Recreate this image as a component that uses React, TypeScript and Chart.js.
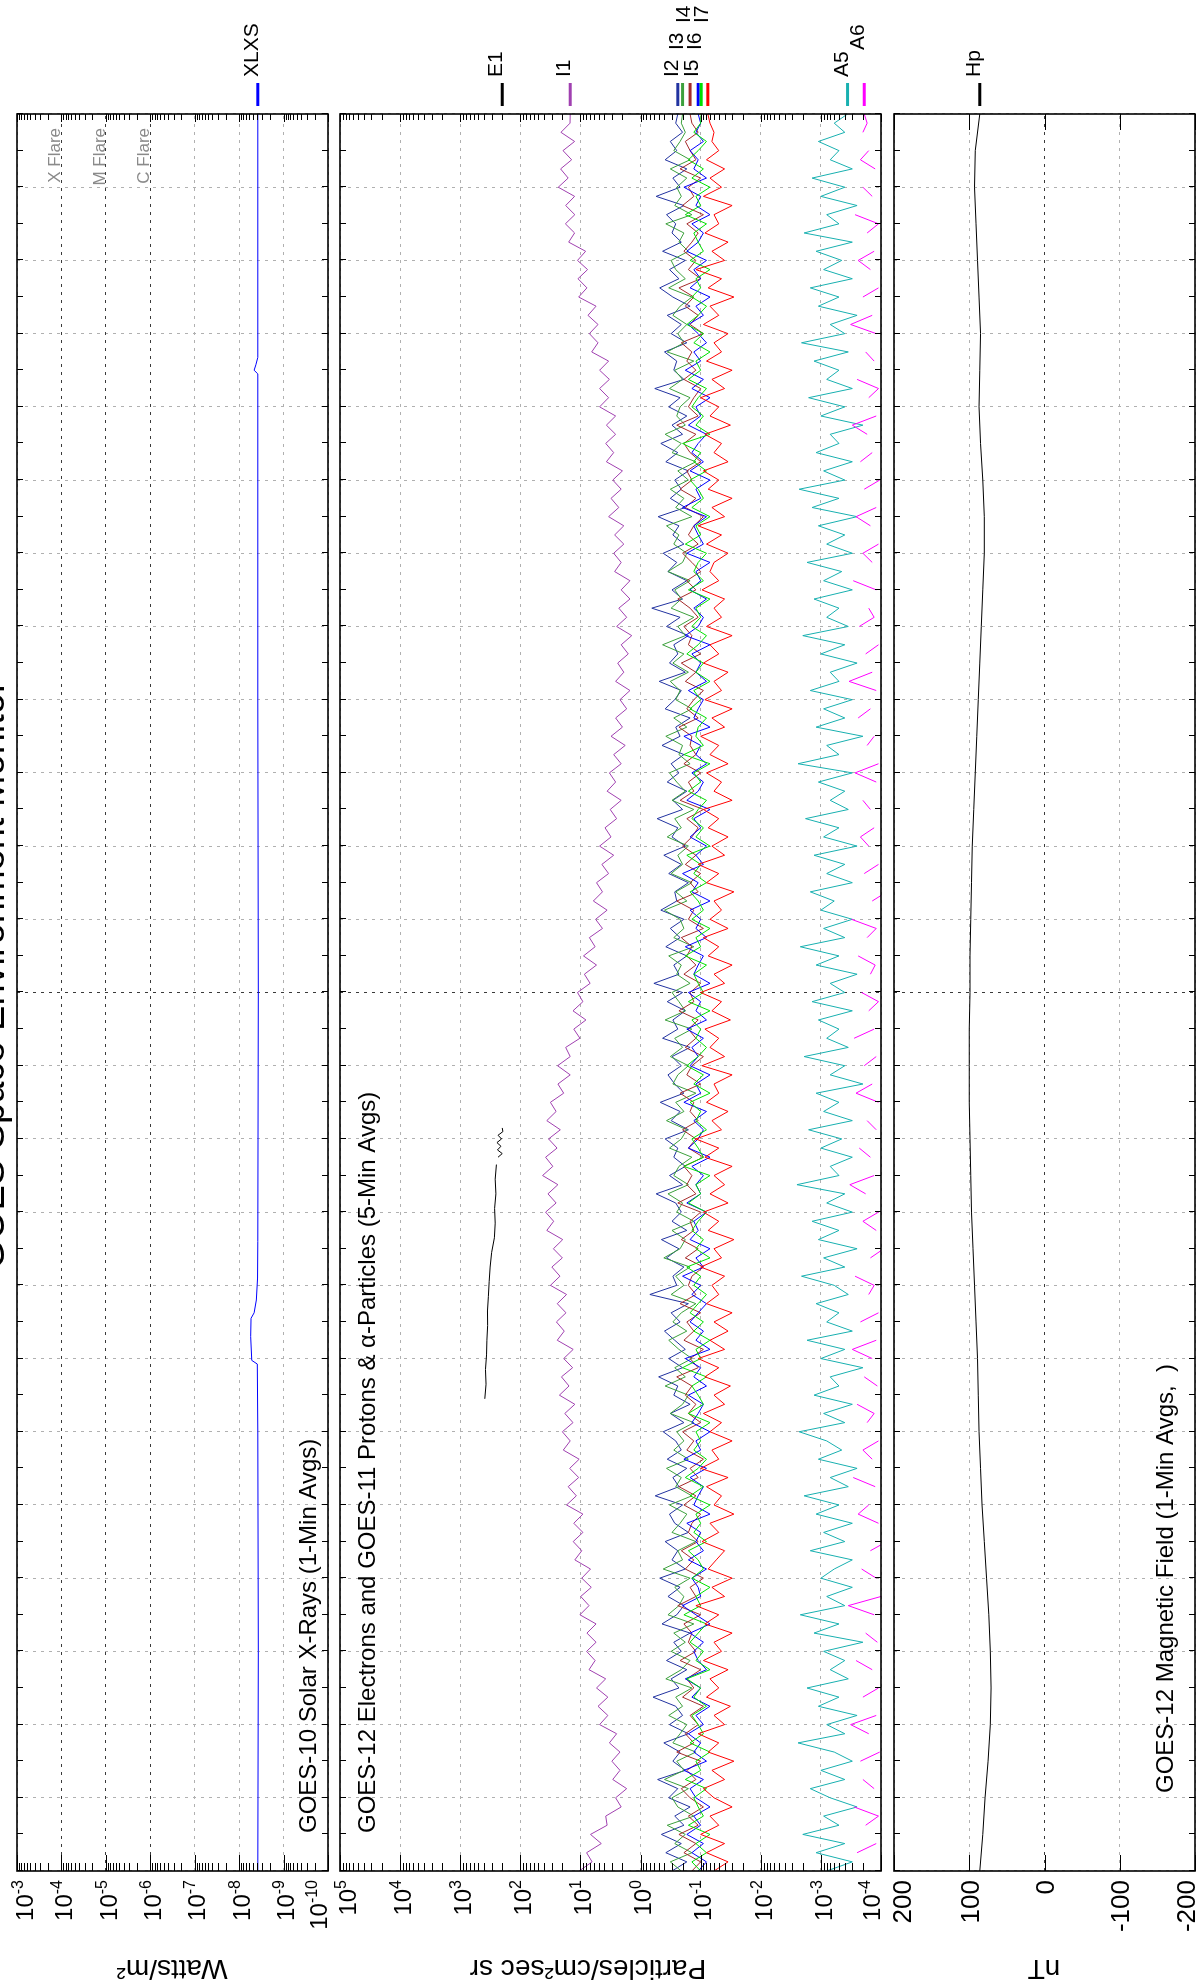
import React, { useEffect, useRef } from "react";
import { Chart, registerables } from "chart.js";

Chart.register(...registerables);

// ---------------- data ----------------
const T15: number[] = Array.from({ length: 193 }, (_, i) => i / 4); // hours, 15-min steps
const HOURS: number[] = Array.from({ length: 49 }, (_, i) => i);
const X_GRID: number[] = Array.from({ length: 25 }, (_, i) => i * 2);
const MIDNIGHT = 24;

const XLXS_T = [0, 6, 12, 13.85, 13.95, 14.6, 15.1, 15.25, 15.6, 16.2, 17.2, 24, 32, 40.9, 41.0, 41.15, 41.35, 48];
const XLXS_V = [3.8e-9, 3.7e-9, 3.8e-9, 3.9e-9, 5.2e-9, 5.5e-9, 5.4e-9, 4.6e-9, 4.1e-9, 3.85e-9, 3.8e-9, 3.7e-9, 3.8e-9, 3.8e-9, 4.6e-9, 4.2e-9, 3.8e-9, 3.8e-9];

const E1_T = [12.9, 13.3, 13.7, 14.1, 14.5, 14.9, 15.3, 15.7, 16.1, 16.5, 16.9, 17.3, 17.7, 18.1, 18.5, 18.9, 19.3, 19.4, 19.5, 19.6, 19.7, 19.8, 19.9, 20.0, 20.1, 20.2, 20.3];
const E1_V = [390, 372, 380, 365, 360, 350, 352, 340, 330, 318, 300, 270, 262, 268, 255, 262, 250, null, 235, 200, 240, 210, 245, 205, 235, 195, 200];

const I1 = [
  10.5, 6.4, 7.9, 4.5, 6.8, 3.6, 3.8, 2.1, 2.6, 1.7, 2.9, 2.2, 3.0, 2.2, 3.3, 2.5,
  4.8, 3.5, 5.1, 3.5, 5.4, 3.8, 7.2, 5.7, 7.9, 5.5, 7.8, 5.5, 10.2, 7.2, 9.9, 6.6,
  9.5, 6.8, 12.4, 9.5, 13.2, 9.1, 12.9, 9.1, 17, 11.7, 16, 10.7, 15.1, 10.5, 19.3, 14.8,
  20, 13.3, 18.2, 12.4, 22.4, 15.5, 20.7, 13.5, 19, 13.2, 24.3, 18.6, 25.1, 17.4, 24.3, 17,
  31.6, 21.9, 29.9, 20, 28.2, 19.7, 36.3, 27.9, 38, 25.4, 34.7, 23.7, 42.7, 28.8, 38, 24.5,
  33.9, 21.6, 36.3, 25.4, 31.6, 19, 23.7, 14.8, 24, 14.8, 17.6, 10.2, 12.9, 8.1, 13.3, 9.1,
  11.2, 6.9, 8.6, 5.4, 8.9, 5.7, 7.1, 4.3, 5.6, 3.6, 6.1, 4.3, 5.4, 3.4, 4.4, 2.8,
  4.8, 3.1, 3.9, 2.5, 3.2, 2.1, 3.6, 2.6, 3.3, 2.1, 2.8, 1.8, 3.1, 2.0, 2.6, 1.7,
  2.2, 1.5, 2.6, 1.9, 2.4, 1.6, 2.1, 1.4, 2.5, 1.7, 2.3, 1.5, 2.1, 1.5, 2.7, 2.1,
  2.8, 1.9, 2.7, 1.9, 3.4, 2.3, 3.1, 2.1, 2.9, 2.0, 3.7, 2.8, 3.8, 2.6, 3.7, 2.6,
  4.8, 3.4, 4.8, 3.3, 4.8, 3.4, 6.5, 5.1, 7.1, 5.1, 7.5, 5.5, 10.7, 7.8, 11, 7.6,
  11.2, 8.2, 15.7, 12.5, 17.8, 12.4, 17.6, 12.5, 23.4, 16, 21.4, 14, 19.5, 12.5, 21.1, 14.9,
  14.8];

const I2 = [
  0.30, 0.17, 0.38, 0.21, 0.45, 0.19, 0.27, 0.15, 0.34, 0.24, 0.52, 0.18, 0.29, 0.22, 0.41, 0.16,
  0.33, 0.20, 0.26, 0.62, 0.23, 0.31, 0.17, 0.37, 0.21, 0.28, 0.15, 0.44, 0.25, 0.19, 0.35, 0.22,
  0.48, 0.18, 0.30, 0.24, 0.39, 0.16, 0.27, 0.33, 0.20, 0.57, 0.23, 0.29, 0.17, 0.36, 0.21, 0.26,
  0.42, 0.19, 0.32, 0.15, 0.28, 0.24, 0.50, 0.20, 0.34, 0.18, 0.27, 0.40, 0.22, 0.31, 0.16, 0.70,
  0.25, 0.29, 0.19, 0.37, 0.23, 0.45, 0.17, 0.30, 0.21, 0.26, 0.55, 0.20, 0.33, 0.18, 0.28, 0.24,
  0.39, 0.16, 0.31, 0.22, 0.47, 0.19, 0.27, 0.35, 0.21, 0.30, 0.15, 0.43, 0.24, 0.29, 0.18, 0.36,
  0.20, 0.60, 0.23, 0.28, 0.17, 0.38, 0.22, 0.32, 0.19, 0.46, 0.25, 0.27, 0.16, 0.34, 0.21, 0.41,
  0.18, 0.30, 0.24, 0.53, 0.20, 0.29, 0.17, 0.36, 0.23, 0.31, 0.19, 0.44, 0.22, 0.26, 0.15, 0.39,
  0.27, 0.21, 0.49, 0.18, 0.33, 0.24, 0.28, 0.16, 0.37, 0.22, 0.65, 0.20, 0.30, 0.17, 0.35, 0.25,
  0.42, 0.19, 0.29, 0.23, 0.51, 0.18, 0.32, 0.21, 0.27, 0.16, 0.38, 0.24, 0.46, 0.20, 0.30, 0.17,
  0.34, 0.22, 0.58, 0.19, 0.28, 0.25, 0.40, 0.17, 0.31, 0.21, 0.36, 0.15, 0.29, 0.48, 0.23, 0.33,
  0.18, 0.43, 0.21, 0.30, 0.26, 0.37, 0.19, 0.55, 0.22, 0.29, 0.17, 0.39, 0.25, 0.32, 0.20, 0.26,
  0.24];

const I3 = [
  0.21, 0.32, 0.14, 0.27, 0.18, 0.36, 0.13, 0.24, 0.30, 0.16, 0.40, 0.19, 0.25, 0.12, 0.29, 0.22,
  0.17, 0.34, 0.20, 0.26, 0.14, 0.38, 0.21, 0.15, 0.31, 0.18, 0.28, 0.13, 0.35, 0.23, 0.19, 0.27,
  0.15, 0.42, 0.20, 0.24, 0.12, 0.30, 0.22, 0.17, 0.33, 0.14, 0.26, 0.21, 0.37, 0.16, 0.28, 0.19,
  0.25, 0.13, 0.32, 0.20, 0.16, 0.39, 0.18, 0.27, 0.14, 0.23, 0.34, 0.17, 0.29, 0.21, 0.12, 0.31,
  0.19, 0.26, 0.15, 0.41, 0.22, 0.18, 0.30, 0.13, 0.25, 0.20, 0.35, 0.16, 0.28, 0.23, 0.14, 0.33,
  0.21, 0.17, 0.37, 0.19, 0.26, 0.12, 0.29, 0.24, 0.16, 0.32, 0.20, 0.27, 0.14, 0.39, 0.18, 0.23,
  0.30, 0.15, 0.25, 0.21, 0.34, 0.13, 0.28, 0.19, 0.22, 0.40, 0.17, 0.26, 0.14, 0.31, 0.20, 0.24,
  0.16, 0.36, 0.21, 0.27, 0.13, 0.30, 0.18, 0.25, 0.33, 0.15, 0.23, 0.20, 0.38, 0.17, 0.28, 0.14,
  0.26, 0.22, 0.32, 0.16, 0.29, 0.19, 0.43, 0.18, 0.24, 0.13, 0.31, 0.21, 0.27, 0.15, 0.35, 0.20,
  0.17, 0.28, 0.23, 0.37, 0.14, 0.26, 0.19, 0.32, 0.16, 0.24, 0.12, 0.30, 0.21, 0.39, 0.18, 0.25,
  0.22, 0.15, 0.33, 0.20, 0.27, 0.13, 0.36, 0.19, 0.24, 0.17, 0.29, 0.22, 0.14, 0.34, 0.18, 0.26,
  0.31, 0.16, 0.23, 0.19, 0.38, 0.14, 0.27, 0.21, 0.25, 0.17, 0.32, 0.15, 0.28, 0.22, 0.18, 0.21,
  0.20];

const I4 = [
  0.14, 0.10, 0.19, 0.12, 0.23, 0.11, 0.16, 0.09, 0.15, 0.21, 0.12, 0.17, 0.10, 0.25, 0.13, 0.18,
  0.11, 0.15, 0.09, 0.20, 0.13, 0.17, 0.10, 0.22, 0.12, 0.16, 0.14, 0.19, 0.10, 0.24, 0.12, 0.15,
  0.09, 0.18, 0.13, 0.21, 0.11, 0.16, 0.14, 0.10, 0.19, 0.12, 0.23, 0.11, 0.15, 0.09, 0.17, 0.13,
  0.20, 0.10, 0.16, 0.12, 0.18, 0.14, 0.25, 0.11, 0.15, 0.09, 0.19, 0.13, 0.17, 0.10, 0.22, 0.12,
  0.16, 0.14, 0.09, 0.18, 0.11, 0.21, 0.13, 0.15, 0.10, 0.24, 0.12, 0.17, 0.14, 0.19, 0.09, 0.16,
  0.12, 0.20, 0.11, 0.15, 0.13, 0.22, 0.10, 0.17, 0.14, 0.09, 0.18, 0.12, 0.16, 0.11, 0.23, 0.13,
  0.15, 0.10, 0.19, 0.12, 0.17, 0.14, 0.21, 0.09, 0.16, 0.13, 0.25, 0.11, 0.15, 0.10, 0.18, 0.12,
  0.20, 0.14, 0.11, 0.17, 0.09, 0.22, 0.13, 0.16, 0.10, 0.19, 0.12, 0.15, 0.14, 0.23, 0.11, 0.17,
  0.13, 0.09, 0.18, 0.12, 0.21, 0.10, 0.16, 0.14, 0.19, 0.11, 0.15, 0.24, 0.12, 0.17, 0.10, 0.14,
  0.20, 0.11, 0.16, 0.13, 0.09, 0.18, 0.12, 0.22, 0.14, 0.17, 0.10, 0.15, 0.19, 0.12, 0.25, 0.11,
  0.16, 0.13, 0.10, 0.19, 0.12, 0.17, 0.14, 0.21, 0.09, 0.15, 0.11, 0.18, 0.13, 0.23, 0.10, 0.16,
  0.12, 0.19, 0.14, 0.11, 0.17, 0.09, 0.20, 0.13, 0.16, 0.10, 0.22, 0.12, 0.15, 0.18, 0.11, 0.14,
  0.15];

const I5 = [
  0.11, 0.08, 0.14, 0.09, 0.17, 0.10, 0.13, 0.07, 0.12, 0.15, 0.09, 0.19, 0.08, 0.13, 0.10, 0.16,
  0.09, 0.12, 0.07, 0.14, 0.10, 0.18, 0.08, 0.11, 0.13, 0.09, 0.15, 0.07, 0.12, 0.20, 0.10, 0.11,
  0.14, 0.08, 0.16, 0.09, 0.12, 0.10, 0.17, 0.07, 0.13, 0.11, 0.09, 0.15, 0.08, 0.19, 0.10, 0.12,
  0.07, 0.14, 0.11, 0.09, 0.16, 0.08, 0.13, 0.10, 0.18, 0.07, 0.12, 0.09, 0.15, 0.11, 0.08, 0.14,
  0.10, 0.20, 0.09, 0.12, 0.07, 0.15, 0.11, 0.13, 0.08, 0.17, 0.10, 0.12, 0.09, 0.14, 0.07, 0.16,
  0.11, 0.09, 0.13, 0.08, 0.19, 0.10, 0.12, 0.07, 0.15, 0.11, 0.14, 0.09, 0.17, 0.08, 0.12, 0.10,
  0.16, 0.07, 0.13, 0.11, 0.09, 0.18, 0.08, 0.12, 0.10, 0.15, 0.07, 0.14, 0.11, 0.20, 0.09, 0.12,
  0.08, 0.15, 0.10, 0.13, 0.07, 0.17, 0.11, 0.09, 0.14, 0.08, 0.12, 0.10, 0.19, 0.07, 0.13, 0.11,
  0.09, 0.16, 0.08, 0.12, 0.10, 0.14, 0.07, 0.18, 0.11, 0.09, 0.13, 0.08, 0.15, 0.10, 0.12, 0.07,
  0.17, 0.09, 0.11, 0.13, 0.08, 0.20, 0.10, 0.12, 0.07, 0.15, 0.09, 0.14, 0.11, 0.08, 0.16, 0.10,
  0.12, 0.07, 0.14, 0.09, 0.18, 0.10, 0.13, 0.08, 0.11, 0.16, 0.09, 0.12, 0.07, 0.15, 0.10, 0.13,
  0.08, 0.17, 0.11, 0.09, 0.14, 0.07, 0.12, 0.10, 0.19, 0.08, 0.13, 0.11, 0.15, 0.09, 0.12, 0.10,
  0.11];

const I6 = [
  0.10, 0.14, 0.08, 0.12, 0.07, 0.16, 0.09, 0.11, 0.13, 0.08, 0.18, 0.10, 0.12, 0.07, 0.15, 0.09,
  0.11, 0.14, 0.08, 0.13, 0.10, 0.17, 0.07, 0.12, 0.09, 0.15, 0.11, 0.08, 0.19, 0.10, 0.12, 0.07,
  0.14, 0.09, 0.11, 0.16, 0.08, 0.13, 0.10, 0.12, 0.07, 0.15, 0.09, 0.18, 0.11, 0.08, 0.13, 0.10,
  0.12, 0.07, 0.16, 0.09, 0.11, 0.14, 0.08, 0.20, 0.10, 0.12, 0.07, 0.13, 0.09, 0.15, 0.11, 0.08,
  0.13, 0.10, 0.17, 0.07, 0.12, 0.09, 0.14, 0.11, 0.08, 0.16, 0.10, 0.12, 0.07, 0.19, 0.09, 0.11,
  0.14, 0.08, 0.12, 0.10, 0.15, 0.07, 0.13, 0.09, 0.17, 0.11, 0.08, 0.12, 0.10, 0.14, 0.07, 0.16,
  0.09, 0.11, 0.13, 0.08, 0.18, 0.10, 0.12, 0.07, 0.14, 0.09, 0.11, 0.15, 0.08, 0.13, 0.10, 0.17,
  0.07, 0.12, 0.09, 0.14, 0.11, 0.08, 0.16, 0.10, 0.13, 0.07, 0.19, 0.09, 0.12, 0.11, 0.08, 0.15,
  0.10, 0.13, 0.07, 0.12, 0.09, 0.17, 0.11, 0.08, 0.14, 0.10, 0.12, 0.07, 0.16, 0.09, 0.13, 0.11,
  0.08, 0.18, 0.10, 0.12, 0.07, 0.14, 0.09, 0.11, 0.15, 0.08, 0.13, 0.10, 0.20, 0.07, 0.12, 0.09,
  0.14, 0.11, 0.08, 0.16, 0.10, 0.12, 0.07, 0.13, 0.09, 0.17, 0.11, 0.08, 0.14, 0.10, 0.12, 0.07,
  0.15, 0.09, 0.11, 0.13, 0.08, 0.18, 0.10, 0.12, 0.07, 0.14, 0.09, 0.16, 0.11, 0.08, 0.13, 0.10,
  0.098];

const I7 = [
  0.06, 0.035, 0.08, 0.04, 0.10, 0.05, 0.07, 0.03, 0.06, 0.09, 0.04, 0.065, 0.028, 0.075, 0.05, 0.11,
  0.04, 0.06, 0.032, 0.08, 0.05, 0.07, 0.035, 0.09, 0.045, 0.06, 0.03, 0.085, 0.05, 0.12, 0.04, 0.065,
  0.03, 0.075, 0.055, 0.04, 0.095, 0.05, 0.07, 0.028, 0.06, 0.045, 0.08, 0.035, 0.10, 0.05, 0.065, 0.03,
  0.07, 0.045, 0.09, 0.04, 0.06, 0.032, 0.085, 0.05, 0.11, 0.04, 0.07, 0.035, 0.06, 0.03, 0.08, 0.05,
  0.065, 0.04, 0.10, 0.045, 0.06, 0.028, 0.075, 0.05, 0.09, 0.035, 0.07, 0.04, 0.06, 0.03, 0.085, 0.05,
  0.12, 0.045, 0.065, 0.035, 0.08, 0.05, 0.06, 0.03, 0.095, 0.04, 0.07, 0.05, 0.085, 0.032, 0.065, 0.045,
  0.10, 0.04, 0.06, 0.03, 0.075, 0.05, 0.09, 0.035, 0.07, 0.045, 0.06, 0.028, 0.08, 0.05, 0.11, 0.04,
  0.065, 0.035, 0.075, 0.05, 0.09, 0.03, 0.06, 0.045, 0.08, 0.035, 0.07, 0.05, 0.10, 0.04, 0.065, 0.03,
  0.085, 0.045, 0.06, 0.035, 0.09, 0.05, 0.07, 0.03, 0.08, 0.045, 0.06, 0.04, 0.095, 0.05, 0.07, 0.06,
  0.035, 0.08, 0.045, 0.11, 0.04, 0.065, 0.03, 0.075, 0.05, 0.09, 0.035, 0.06, 0.045, 0.085, 0.032, 0.07,
  0.05, 0.10, 0.04, 0.065, 0.03, 0.08, 0.045, 0.06, 0.035, 0.09, 0.05, 0.07, 0.028, 0.075, 0.045, 0.12,
  0.04, 0.065, 0.035, 0.085, 0.05, 0.06, 0.03, 0.09, 0.045, 0.07, 0.04, 0.08, 0.05, 0.065, 0.06, 0.07,
  0.076];

const A5 = [
  8e-4, 3e-4, 1.2e-3, 4e-4, 2e-3, 5e-4, 9e-4, 2.5e-4, 7e-4, 1.5e-3, 4e-4, 1e-3, 3e-4, 6e-4, 2.4e-3, 4e-4,
  8e-4, 2.5e-4, 1.1e-3, 5e-4, 1.7e-3, 3.5e-4, 7e-4, 4e-4, 9e-4, 2e-4, 1.3e-3, 5e-4, 2.2e-3, 4e-4, 8e-4, 3e-4,
  1e-3, 6e-4, 3e-4, 1.5e-3, 4e-4, 9e-4, 3e-4, 1.2e-3, 5e-4, 1.9e-3, 3.5e-4, 7e-4, 2.5e-4, 1.1e-3, 4.5e-4, 8e-4,
  2.3e-3, 4e-4, 9e-4, 3e-4, 1.3e-3, 5e-4, 7e-4, 2e-4, 1e-3, 4e-4, 1.7e-3, 3e-4, 8e-4, 5e-4, 1.2e-3, 3.5e-4,
  6e-4, 2.1e-3, 4e-4, 9e-4, 2.5e-4, 1.1e-3, 5e-4, 1.4e-3, 3e-4, 8e-4, 4e-4, 2.5e-3, 5e-4, 7e-4, 3e-4, 1e-3,
  4.5e-4, 1.6e-3, 3e-4, 9e-4, 5e-4, 1.2e-3, 2e-4, 7e-4, 4e-4, 1.9e-3, 3.5e-4, 8e-4, 5e-4, 1.1e-3, 3e-4, 1.4e-3,
  4e-4, 7e-4, 2.5e-4, 1.2e-3, 5e-4, 2.2e-3, 4e-4, 9e-4, 3e-4, 1e-3, 6e-4, 1.5e-3, 3e-4, 8e-4, 4e-4, 1.3e-3,
  2.5e-4, 9e-4, 5e-4, 1.8e-3, 3.5e-4, 7e-4, 4e-4, 1.1e-3, 3e-4, 2.4e-3, 5e-4, 8e-4, 2e-4, 1.2e-3, 4e-4, 9e-4,
  3e-4, 1.5e-3, 5e-4, 7e-4, 2.5e-4, 1e-3, 4e-4, 2e-3, 3.5e-4, 8e-4, 5e-4, 1.3e-3, 3e-4, 9e-4, 4.5e-4, 1.7e-3,
  3e-4, 8e-4, 4e-4, 1.1e-3, 2.5e-4, 1.4e-3, 5e-4, 2.3e-3, 4e-4, 9e-4, 3e-4, 1.2e-3, 5e-4, 7e-4, 2e-4, 1e-3,
  4e-4, 1.6e-3, 3e-4, 8e-4, 5e-4, 1.3e-3, 3.5e-4, 2.1e-3, 4e-4, 7e-4, 2.5e-4, 1.1e-3, 5e-4, 1.5e-3, 3e-4, 9e-4,
  4.5e-4, 1.2e-3, 3e-4, 1.9e-3, 5e-4, 8e-4, 2.5e-4, 1e-3, 4e-4, 1.4e-3, 3e-4, 7e-4, 5e-4, 1.1e-3, 4e-4, 6e-4,
  3.6e-4];

const A6 = [
  1.5e-4, null, 2.5e-4, 1.2e-4, null, 1.8e-4, 1.1e-4, 2.8e-4, null, 1.3e-4, 2.0e-4, null, 2.2e-4, 1.05e-4, null, 1.6e-4,
  3.2e-4, 1.2e-4, null, 2.0e-4, 1.1e-4, null, 1.4e-4, 2.6e-4, null, 1.15e-4, 1.8e-4, null, 1.3e-4, 3.5e-4, 1.0e-4, null,
  1.2e-4, 2.1e-4, null, 1.5e-4, 8e-5, null, 1.1e-4, 2.4e-4, 1.6e-4, null, 1.25e-4, 2.9e-4, null, 1.4e-4, 2.0e-4, 1.1e-4,
  null, 1.7e-4, 1.3e-4, 2.5e-4, null, 1.15e-4, 1.9e-4, null, 1.4e-4, 3.0e-4, 1.2e-4, null, 2.2e-4, 1.1e-4, null, 1.6e-4,
  1.3e-4, 2.7e-4, null, 1.5e-4, 9e-5, null, 1.2e-4, 2.0e-4, 1.1e-4, null, 1.8e-4, 3.3e-4, 1.3e-4, null, 1.5e-4, 2.3e-4,
  null, 1.2e-4, 1.7e-4, null, 1.1e-4, 2.6e-4, 1.4e-4, null, 1.9e-4, 1.2e-4, null, 2.8e-4, 1.3e-4, null, 1.6e-4, 1.1e-4,
  2.1e-4, null, 1.5e-4, 1.25e-4, 2.4e-4, null, 1.7e-4, 1.2e-4, 3.1e-4, null, 1.4e-4, 8e-5, null, 1.9e-4, 1.1e-4, null,
  1.6e-4, 2.2e-4, 1.3e-4, null, 1.5e-4, 2.0e-4, null, 1.2e-4, 2.7e-4, 1.1e-4, null, 1.7e-4, 1.3e-4, null, 2.4e-4, 1.5e-4,
  null, 1.2e-4, 3.4e-4, 1.4e-4, null, 1.8e-4, 1.1e-4, null, 2.3e-4, 1.3e-4, 1.6e-4, null, 1.2e-4, 2.9e-4, null, 1.4e-4,
  2.0e-4, 1.1e-4, null, 1.5e-4, 2.6e-4, 1.2e-4, null, 1.9e-4, 1.05e-4, null, 2.2e-4, 1.4e-4, null, 1.7e-4, 3.0e-4, 1.2e-4,
  null, 1.6e-4, 1.1e-4, 2.5e-4, null, 1.3e-4, 1.8e-4, null, 1.2e-4, 3.2e-4, 1.4e-4, null, 2.0e-4, 1.1e-4, null, 1.5e-4,
  2.4e-4, 1.3e-4, null, 1.7e-4, 1.1e-4, 2.7e-4, null, 1.4e-4, 2.0e-4, null, 1.25e-4, 2.2e-4, 1.6e-4, null, 2.0e-4, 1.7e-4,
  1.9e-4];

const HP = [86, 82, 79, 75, 72, 71, 72, 74, 77, 80, 83, 85, 87, 88, 89, 91, 93, 95, 97, 98, 99, 100, 100, 100, 99,
  99, 98, 97, 96, 94, 92, 90, 88, 86, 84, 82, 80, 80, 82, 85, 87, 86, 85, 87, 89, 91, 93, 92, 86];

const XRAY_DECADES = [1e-10, 1e-9, 1e-8, 1e-7, 1e-6, 1e-5, 1e-4, 1e-3];
const FLARE_LEVELS = [1e-4, 1e-5, 1e-6];
const FLARE_NAMES = ["X Flare", "M Flare", "C Flare"];
const PART_DECADES = [1e-4, 1e-3, 1e-2, 1e-1, 1, 10, 100, 1e3, 1e4, 1e5];
const NT_TICKS = [-200, -100, 0, 100, 200];

// ---------------- layout / style ----------------
const W = 1986;
const H = 1204;
const PLOT_LEFT = 115;
const PLOT_RIGHT = 1872;
const FONT = '"Liberation Sans", Arial, Helvetica, sans-serif';
const LEVEL_X = [1909, 1936, 1963];

type Series = { label: string; color: string; t: number[]; v: (number | null)[] };
type Panel = {
  key: string;
  top: number;
  bottom: number;
  yType: "logarithmic" | "linear";
  yMin: number;
  yMax: number;
  yGrid: number[];
  darkY: number[];
  title: string;
  titleX: number;
  titleY: number;
  axisTitle: string;
  axisTitleY: number;
  series: Series[];
  mainTitle?: boolean;
  flares?: boolean;
};

const PANELS: Panel[] = [
  {
    key: "xray",
    top: 17,
    bottom: 328,
    yType: "logarithmic",
    yMin: 1e-10,
    yMax: 1e-3,
    yGrid: XRAY_DECADES,
    darkY: FLARE_LEVELS,
    title: "GOES-10 Solar X-Rays (1-Min Avgs)",
    titleX: 153,
    titleY: 316,
    axisTitle: "Watts/m\u00b2",
    axisTitleY: 172,
    series: [{ label: "XLXS", color: "#0000ff", t: XLXS_T, v: XLXS_V }],
    mainTitle: true,
    flares: true,
  },
  {
    key: "part",
    top: 340,
    bottom: 881,
    yType: "logarithmic",
    yMin: 1e-4,
    yMax: 1e5,
    yGrid: PART_DECADES,
    darkY: [],
    title: "GOES-12 Electrons and GOES-11 Protons & \u03b1-Particles (5-Min Avgs)",
    titleX: 153,
    titleY: 375,
    axisTitle: "Particles/cm\u00b2sec sr",
    axisTitleY: 588,
    series: [
      { label: "E1", color: "#000000", t: E1_T, v: E1_V },
      { label: "I1", color: "#a040b0", t: T15, v: I1 },
      { label: "I2", color: "#2233a0", t: T15, v: I2 },
      { label: "I3", color: "#3ca03c", t: T15, v: I3 },
      { label: "I4", color: "#a52a2a", t: T15, v: I4 },
      { label: "I5", color: "#0000ff", t: T15, v: I5 },
      { label: "I6", color: "#00e000", t: T15, v: I6 },
      { label: "I7", color: "#ff0000", t: T15, v: I7 },
      { label: "A5", color: "#18b0b0", t: T15, v: A5 },
      { label: "A6", color: "#ff00ff", t: T15, v: A6 },
    ],
  },
  {
    key: "mag",
    top: 894,
    bottom: 1195,
    yType: "linear",
    yMin: -200,
    yMax: 200,
    yGrid: NT_TICKS,
    darkY: [0],
    title: "GOES-12 Magnetic Field (1-Min Avgs,  )",
    titleX: 193,
    titleY: 1173,
    axisTitle: "nT",
    axisTitleY: 1044,
    series: [{ label: "Hp", color: "#000000", t: HOURS, v: HP }],
  },
];

function seg(ctx: CanvasRenderingContext2D, x1: number, y1: number, x2: number, y2: number) {
  ctx.beginPath();
  ctx.moveTo(x1, y1);
  ctx.lineTo(x2, y2);
  ctx.stroke();
}

function decorPlugin(p: Panel) {
  return {
    id: "decor_" + p.key,
    afterDraw(chart: any) {
      const ctx = chart.ctx as CanvasRenderingContext2D;
      const { left: L, right: R, top: T, bottom: B } = chart.chartArea;
      const xs = chart.scales.x;
      const ys = chart.scales.y;
      ctx.save();
      ctx.strokeStyle = "#000";
      ctx.lineWidth = 1;
      // hour ticks (inward)
      for (const h of HOURS) {
        const x = Math.round(xs.getPixelForValue(h)) + 0.5;
        seg(ctx, x, T, x, T + 6);
        seg(ctx, x, B, x, B - 6);
      }
      // value ticks
      if (p.yType === "logarithmic") {
        for (let i = 0; i < p.yGrid.length; i++) {
          const v = p.yGrid[i];
          const y = Math.round(ys.getPixelForValue(v)) + 0.5;
          seg(ctx, L, y, L + 16, y);
          seg(ctx, R, y, R - 8, y);
          if (i < p.yGrid.length - 1) {
            for (let k = 2; k <= 9; k++) {
              const ym = Math.round(ys.getPixelForValue(k * v)) + 0.5;
              seg(ctx, L, ym, L + 8, ym);
              seg(ctx, R, ym, R - 6, ym);
            }
          }
        }
      } else {
        for (const v of p.yGrid) {
          const y = Math.round(ys.getPixelForValue(v)) + 0.5;
          seg(ctx, L, y, L + 16, y);
          seg(ctx, R, y, R - 16, y);
        }
      }
      // frame
      ctx.lineWidth = 1.6;
      ctx.strokeRect(L, T, R - L, B - T);

      // tick labels
      ctx.fillStyle = "#000";
      ctx.textBaseline = "alphabetic";
      const xr = L - 9;
      for (const v of p.yGrid) {
        const ty = ys.getPixelForValue(v);
        if (p.yType === "logarithmic") {
          const exp = String(Math.round(Math.log10(v)));
          ctx.font = `24px ${FONT}`;
          const wb = ctx.measureText("10").width;
          ctx.font = `16px ${FONT}`;
          const ws = ctx.measureText(exp).width;
          let c = ty;
          c = Math.max(c, T - 6 + 10.75);
          c = Math.min(c, B - 11.75);
          const base = c + 10.75;
          const x0 = xr - wb - ws;
          ctx.textAlign = "left";
          ctx.font = `24px ${FONT}`;
          ctx.fillText("10", x0, base);
          ctx.font = `16px ${FONT}`;
          ctx.fillText(exp, x0 + wb, base - 10);
        } else {
          let c = ty;
          c = Math.max(c, T - 2 + 9.3);
          c = Math.min(c, B - 9.3);
          ctx.textAlign = "right";
          ctx.font = `26px ${FONT}`;
          ctx.fillText(String(v), xr, c + 9.3);
        }
      }

      // axis title (rotated)
      ctx.save();
      ctx.translate(26, p.axisTitleY);
      ctx.rotate(-Math.PI / 2);
      ctx.textAlign = "center";
      ctx.font = `28px ${FONT}`;
      ctx.fillText(p.axisTitle, 0, 0);
      ctx.restore();

      // panel title
      ctx.textAlign = "left";
      ctx.font = `24px ${FONT}`;
      ctx.fillText(p.title, p.titleX, p.titleY);

      // flare labels
      if (p.flares) {
        ctx.fillStyle = "#8a8a8a";
        ctx.font = `17px ${FONT}`;
        ctx.textAlign = "right";
        FLARE_LEVELS.forEach((lv, i) => {
          ctx.fillText(FLARE_NAMES[i], 1858, ys.getPixelForValue(lv) - 1);
        });
        ctx.fillStyle = "#000";
      }

      // main title (mostly cropped at the top edge)
      if (p.mainTitle) {
        ctx.textAlign = "center";
        ctx.font = `38px ${FONT}`;
        ctx.fillText("GOES Space Environment Monitor", 1011, 4);
      }

      // end-of-line legend
      const levels: number[][] = [[], [], []];
      chart.data.datasets.forEach((ds: any) => {
        let last: number | null = null;
        for (let j = ds.data.length - 1; j >= 0; j--) {
          if (ds.data[j].y != null) {
            last = ds.data[j].y;
            break;
          }
        }
        if (last == null) return;
        const y = ys.getPixelForValue(last);
        let lvl = 0;
        while (lvl < 2 && levels[lvl].some((o) => Math.abs(o - y) < 18)) lvl++;
        levels[lvl].push(y);
        ctx.strokeStyle = ds.borderColor;
        ctx.lineWidth = 3;
        seg(ctx, 1880, y, 1903, y);
        ctx.fillStyle = "#000";
        ctx.textAlign = "left";
        ctx.font = `21px ${FONT}`;
        ctx.fillText(ds.label, LEVEL_X[lvl], y);
      });
      ctx.restore();
    },
  };
}

function buildChart(canvas: HTMLCanvasElement, p: Panel) {
  const datasets = p.series.map((s, i) => ({
    label: s.label,
    data: s.t.map((t, j) => ({ x: t, y: s.v[j] })),
    borderColor: s.color,
    backgroundColor: s.color,
    borderWidth: 1,
    pointRadius: 0,
    pointHoverRadius: 0,
    tension: 0,
    fill: false,
    spanGaps: false,
    order: -i,
  }));
  const isDark = (v: number) =>
    p.darkY.some((d) => (p.yType === "logarithmic" ? Math.abs(Math.log10(d) - Math.log10(v)) < 1e-6 : d === v));
  return new Chart(canvas, {
    type: "line",
    data: { datasets },
    options: {
      responsive: false,
      animation: false,
      devicePixelRatio: 1,
      events: [],
      layout: { padding: { left: PLOT_LEFT, right: W - PLOT_RIGHT, top: p.top, bottom: H - p.bottom } },
      plugins: { legend: { display: false }, tooltip: { enabled: false }, title: { display: false } },
      scales: {
        x: {
          type: "linear",
          min: 0,
          max: 48,
          ticks: { display: false },
          afterBuildTicks: (s: any) => {
            s.ticks = X_GRID.map((v) => ({ value: v }));
          },
          afterFit: (s: any) => {
            s.height = 0;
          },
          grid: {
            drawTicks: false,
            lineWidth: 1,
            color: (c: any) => (c.tick && c.tick.value === MIDNIGHT ? "#3a3a3a" : "#b0b0b0"),
          },
          border: { display: false, dash: [3, 5] },
        },
        y: {
          type: p.yType,
          min: p.yMin,
          max: p.yMax,
          ticks: { display: false },
          afterBuildTicks: (s: any) => {
            s.ticks = p.yGrid.map((v) => ({ value: v }));
          },
          afterFit: (s: any) => {
            s.width = 0;
          },
          grid: {
            drawTicks: false,
            lineWidth: 1,
            color: (c: any) => (c.tick && isDark(c.tick.value) ? "#3a3a3a" : "#b0b0b0"),
          },
          border: { display: false, dash: [3, 5] },
        },
      },
    },
    plugins: [decorPlugin(p)],
  } as any);
}

export default function App() {
  const refs = useRef<(HTMLCanvasElement | null)[]>([]);
  useEffect(() => {
    const charts = PANELS.map((p, i) => buildChart(refs.current[i] as HTMLCanvasElement, p));
    return () => charts.forEach((c) => c.destroy());
  }, []);
  return (
    <div style={{ position: "absolute", left: 0, top: 0, width: 1204, height: 1986, overflow: "hidden", background: "#fff" }}>
      <div
        style={{
          position: "absolute",
          left: 0,
          top: 0,
          width: W,
          height: H,
          transformOrigin: "0 0",
          transform: `translateY(${W}px) rotate(-90deg)`,
        }}
      >
        {PANELS.map((p, i) => (
          <canvas
            key={p.key}
            ref={(el) => {
              refs.current[i] = el;
            }}
            width={W}
            height={H}
            style={{ position: "absolute", left: 0, top: 0, width: W, height: H }}
          />
        ))}
      </div>
    </div>
  );
}
